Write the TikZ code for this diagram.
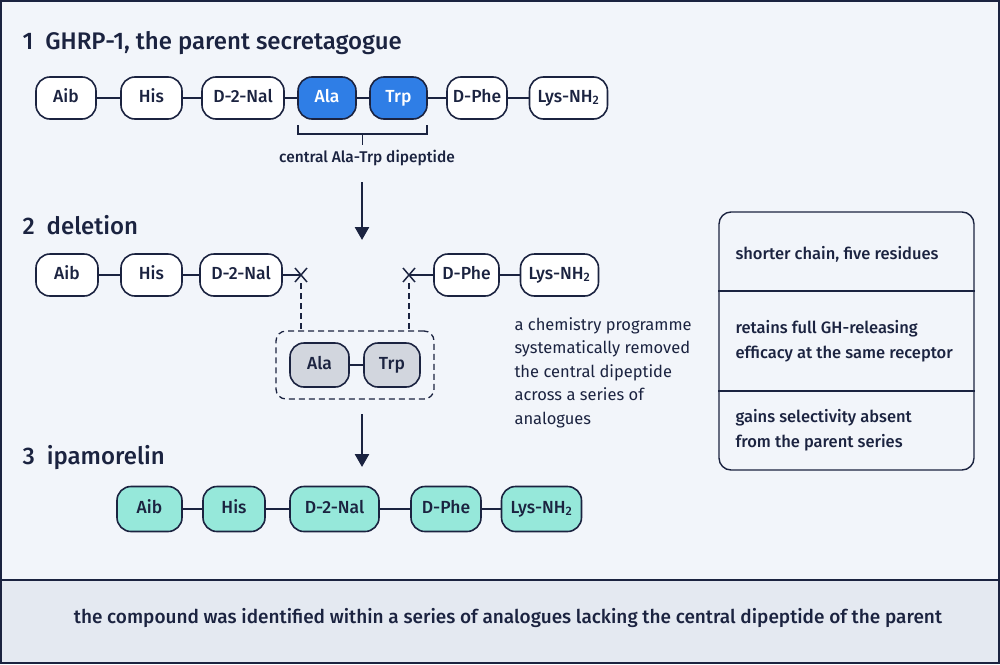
\documentclass[tikz,border=0pt]{standalone}
\usepackage{fontspec}
\setmainfont{Fira Sans}[BoldFont={Fira Sans Medium}]
\usetikzlibrary{arrows.meta}
\definecolor{navy}{HTML}{1B2340}
\definecolor{pagebg}{HTML}{F2F5FA}
\definecolor{bandbg}{HTML}{E4E9F1}
\definecolor{keyblue}{HTML}{2F7EE6}
\definecolor{mint}{HTML}{96E8DA}
\definecolor{lostgrey}{HTML}{D2D6DE}
\tikzset{
  res/.style={draw=navy, line width=1.6pt, rounded corners=14pt, fill=white,
    minimum height=42pt, inner xsep=1pt, inner ysep=0pt, text height=12pt, text depth=3.5pt,
    text=navy, font=\bfseries\fontsize{17.5}{18}\selectfont},
  hit/.style={res, fill=keyblue, text=white},
  gone/.style={res, fill=lostgrey, minimum height=44pt},
  kept/.style={res, fill=mint, minimum height=45pt},
  bond/.style={draw=navy, line width=2.8pt},
  cutline/.style={draw=navy, line width=1.3pt, dash pattern=on 6pt off 4pt},
  steptitle/.style={anchor=west, text=navy, font=\bfseries\fontsize{24}{26}\selectfont},
  body/.style={anchor=west, text=navy, font=\fontsize{16.5}{23.5}\selectfont},
  bodym/.style={anchor=west, text=navy, font=\bfseries\fontsize{16.5}{24.5}\selectfont, align=left},
  flow/.style={draw=navy, line width=2.6pt, -{Triangle[width=14pt,length=13pt]}}
}
\begin{document}
\begin{tikzpicture}[x=1pt,y=-1pt]
  \useasboundingbox (0,0) rectangle (1000,664);
  \fill[pagebg] (0,0) rectangle (1000,664);
  \fill[bandbg] (0,580) rectangle (1000,664);
  \draw[navy, line width=1.6pt] (0,580) -- (1000,580);
  \draw[navy, line width=2pt] (1,1) rectangle (999,663);

  \node[steptitle] (t1) at (19,43) {1\enspace GHRP-1, the parent secretagogue};
  \node[res, minimum width=60pt] (p1) at (66,98) {Aib};
  \node[res, minimum width=61pt] (p2) at (151.5,98) {His};
  \node[res, minimum width=82pt] (p3) at (243,98) {D-2-Nal};
  \node[hit, minimum width=58pt] (p4) at (327,98) {Ala};
  \node[hit, minimum width=57pt] (p5) at (398.5,98) {Trp};
  \node[res, minimum width=60pt] (p6) at (477,98) {D-Phe};
  \node[res, minimum width=78pt] (p7) at (568.5,98) {Lys-NH\textsubscript{2}};
  \begin{scope}[bond]
    \draw (p1) to (p2);
    \draw (p2) to (p3);
    \draw (p3) to (p4);
    \draw (p4) to (p5);
    \draw (p5) to (p6);
    \draw (p6) to (p7);
  \end{scope}
  \draw[navy, line width=1.3pt] (298,125) -- (298,134) -- (427,134) -- (427,125)
    (362.5,134) -- (362.5,145);
  \node[text=navy, font=\bfseries\fontsize{15.5}{18}\selectfont] (brace) at (367,158) {central Ala-Trp dipeptide};
  \coordinate (a1s) at (362,182);
  \coordinate (a1e) at (362,240);
  \draw[flow] (a1s) -- (a1e);

  \node[steptitle] (t2) at (19,225) {2\enspace deletion};
  \node[res, minimum width=62pt] (d1) at (67,275) {Aib};
  \node[res, minimum width=61pt] (d2) at (151.5,275) {His};
  \node[res, minimum width=82pt] (d3) at (241,275) {D-2-Nal};
  \node[res, minimum width=65pt] (d6) at (466.5,275) {D-Phe};
  \node[res, minimum width=78pt] (d7) at (559.5,275) {Lys-NH\textsubscript{2}};
  \coordinate (cutl) at (301,275);
  \coordinate (cutr) at (409,275);
  \begin{scope}[bond]
    \draw (d1) to (d2);
    \draw (d2) to (d3);
    \draw (d3) to (cutl);
    \draw (cutr) to (d6);
    \draw (d6) to (d7);
  \end{scope}
  \draw[navy, line width=1.5pt] (cutl) +(-6,-7) -- +(6,7) +(-6,7) -- +(6,-7)
    (cutr) +(-6,-7) -- +(6,7) +(-6,7) -- +(6,-7);
  \node[cutline, rounded corners=10pt,
    minimum width=158pt, minimum height=68pt] (cut) at (355,365) {};
  \draw[cutline] (cutl) ++(0,8) -- (cutl |- cut.north);
  \draw[cutline] (cutr) ++(0,8) -- (cutr |- cut.north);
  \node[gone, minimum width=59pt] (c1) at (319.5,365) {Ala};
  \node[gone, minimum width=56pt] (c2) at (392,365) {Trp};
  \draw[bond] (c1) to (c2);
  \node[body, align=left, anchor=north west] (note) at (511,314)
    {a chemistry programme\\systematically removed\\the central dipeptide\\across a series of\\analogues};
  \coordinate (a2s) at (362,414);
  \coordinate (a2e) at (362,467);
  \draw[flow] (a2s) -- (a2e);

  \node[steptitle] (t3) at (19,458) {3\enspace ipamorelin};
  \node[kept, minimum width=65pt] (i1) at (149.5,509) {Aib};
  \node[kept, minimum width=62pt] (i2) at (234,509) {His};
  \node[kept, minimum width=89pt] (i3) at (334.5,509) {D-2-Nal};
  \node[kept, minimum width=70pt] (i4) at (446,509) {D-Phe};
  \node[kept, minimum width=80pt] (i5) at (541.5,509) {Lys-NH\textsubscript{2}};
  \begin{scope}[bond]
    \draw (i1) to (i2);
    \draw (i2) to (i3);
    \draw (i3) to (i4);
    \draw (i4) to (i5);
  \end{scope}

  \node[draw=navy, line width=1.4pt, rounded corners=12pt, fill=pagebg,
    minimum width=255pt, minimum height=258pt] (facts) at (846.5,341) {};
  \draw[navy, line width=1.3pt] (facts.west |- 0,291) -- (facts.east |- 0,291);
  \draw[navy, line width=1.3pt] (facts.west |- 0,391) -- (facts.east |- 0,391);
  \node[bodym] (f1) at (732,254) {shorter chain, five residues};
  \node[bodym] (f2) at (732,341) {retains full GH-releasing\\efficacy at the same receptor};
  \node[bodym] (f3) at (732,430) {gains selectivity absent\\from the parent series};

  \node[text=navy, font=\bfseries\fontsize{19}{20}\selectfont] (caption) at (508,618)
    {the compound was identified within a series of analogues lacking the central dipeptide of the parent};
\end{tikzpicture}
\end{document}
